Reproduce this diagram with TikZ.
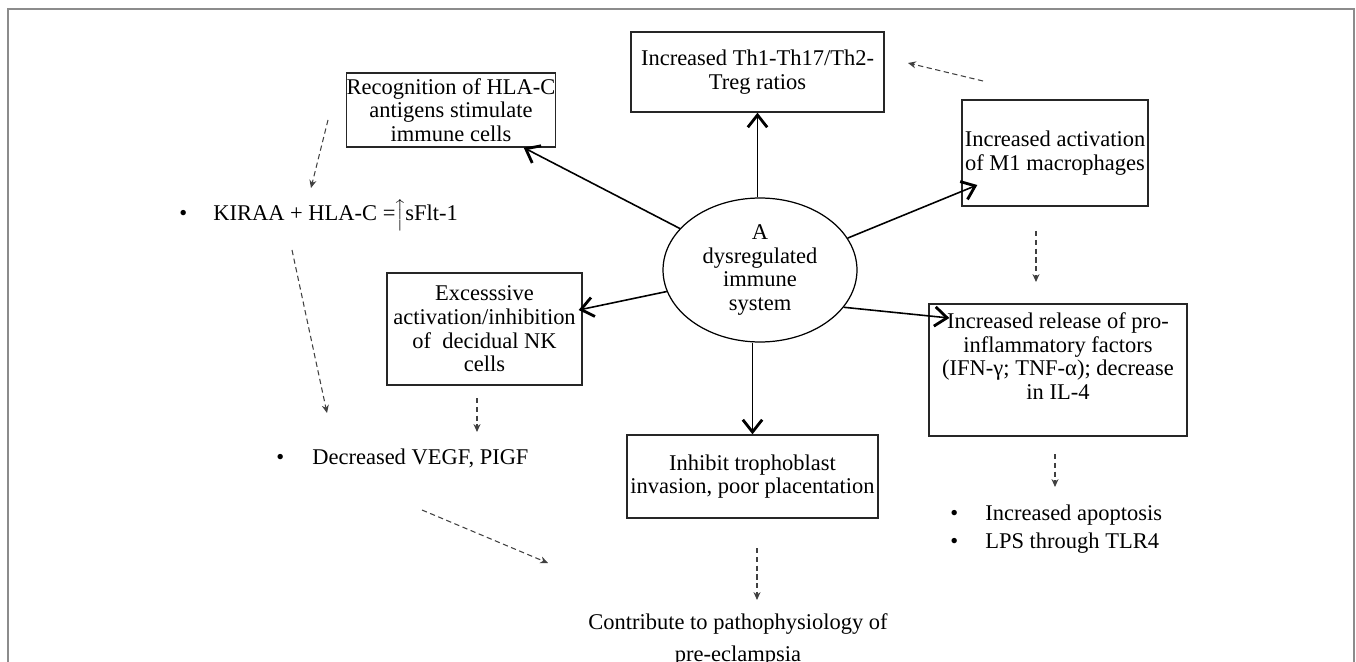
\documentclass[tikz,border=0pt]{standalone}
\usepackage{fontspec}
\setmainfont{Liberation Serif}
\usetikzlibrary{arrows.meta,calc,shapes.geometric}
\def\txtfont{\fontsize{12.8}{13.5}\selectfont}
\tikzset{
	box/.style={draw, draw=black!85, line width=0.8pt, align=center, inner sep=0pt, font=\txtfont},
	hub/.style={draw, ellipse, line width=0.7pt, align=center, inner sep=0pt, minimum width=3.88cm, minimum height=2.88cm, font=\txtfont},
	plain/.style={inner sep=0pt, font=\txtfont},
	push/.style={line width=0.9pt, -{Straight Barb[length=7pt,width=11pt,line width=1.6pt]}},
	hint/.style={densely dashed, line width=0.6pt, black!75, -{Stealth[length=4.5pt,width=4pt]}}
}

\begin{document}
\begin{tikzpicture}[x=0.02cm, y=-0.02cm]
			%%%%% START %%%%%
			\clip (0,0) rectangle (1356,662);
			\fill[white] (0,0) rectangle (1356,662);
			\draw[black!45, line width=1.1pt] (8,662) -- (8,9) -- (1354,9) -- (1354,662);
			
			% centre
			\node[hub] (dys) at (760,270) {A\\dysregulated\\immune\\system};
			
			% boxes
			\node[box, minimum width=5.06cm, minimum height=1.6cm] (th) at (757.5,72) {Increased Th1-Th17/Th2-\\Treg ratios};
			\node[box, minimum width=3.76cm, minimum height=1.48cm] (recog) at (451,110) {Recognition of HLA-C\\antigens stimulate\\immune cells};
			\node[box, minimum width=3.72cm, minimum height=2.12cm] (m1) at (1055,153) {Increased activation\\of M1 macrophages};
			\node[box, minimum width=3.9cm, minimum height=2.24cm] (nk) at (484.5,329) {Excesssive\\activation/inhibition\\of\ \ decidual NK\\cells};
			\node[box, minimum width=5.16cm, minimum height=2.64cm] (rel) at (1058,370) {};
			\node[plain, align=center] (relt) at ($(rel.center)+(0,-14)$) {Increased release of pro-\\inflammatory factors\\(IFN-γ; TNF-α); decrease\\in IL-4};
			\node[box, minimum width=5.02cm, minimum height=1.66cm] (inhib) at (752.5,476.5) {Inhibit trophoblast\\invasion, poor placentation};
			
			% loose text
			\node[plain, anchor=west] (kiraa) at (179,215) {\makebox[0.68cm][l]{\textbullet}KIRAA + HLA-C =\kern-0.5pt$\Big\uparrow$\kern-0.5pt sFlt-1};
			\node[plain, anchor=west] (vegf) at (276,458) {\makebox[0.72cm][l]{\textbullet}Decreased VEGF, PIGF};
			\node[plain, anchor=west] (apop) at (950,515) {\makebox[0.7cm][l]{\textbullet}Increased apoptosis};
			\node[plain, anchor=west] (lps) at (950,543) {\makebox[0.7cm][l]{\textbullet}LPS through TLR4};
			\node[plain, align=center, anchor=north] (pe) at (738,613) {Contribute to pathophysiology of\\[5pt]pre-eclampsia};
			
			% solid arrows
			\draw[push] (th.south |- dys.north) -- (th.south);
			\draw[push] (dys) -- (recog);
			\draw[push] (dys.20) -- ($(m1.west)+(16,32)$);
			\draw[push] (dys.193) -- ($(nk.east)+(-4,-19)$);
			\draw[push] (dys.-24) -- ($(rel.west)+(21,-52)$);
			\draw[push] (inhib.north |- dys.south) -- (inhib.north);
			
			% dashed arrows
			\coordinate (a1) at (328,120); \coordinate (a2) at (311,188);
			\coordinate (b1) at (292,250); \coordinate (b2) at (327,413);
			\coordinate (c1) at (477,398); \coordinate (c2) at (477,432);
			\coordinate (d1) at (422,510); \coordinate (d2) at (548,563);
			\coordinate (e1) at (757,548); \coordinate (e2) at (757,600);
			\coordinate (f1) at (1036,231); \coordinate (f2) at (1036,282);
			\coordinate (g1) at (1055,454); \coordinate (g2) at (1055,487);
			\coordinate (h1) at (983,81); \coordinate (h2) at (908,63);
			\foreach \s/\t in {a1/a2, b1/b2, c1/c2, d1/d2, e1/e2, f1/f2, g1/g2, h1/h2}
				\draw[hint] (\s) -- (\t);
			%%%%% END %%%%%
\end{tikzpicture}
\end{document}
